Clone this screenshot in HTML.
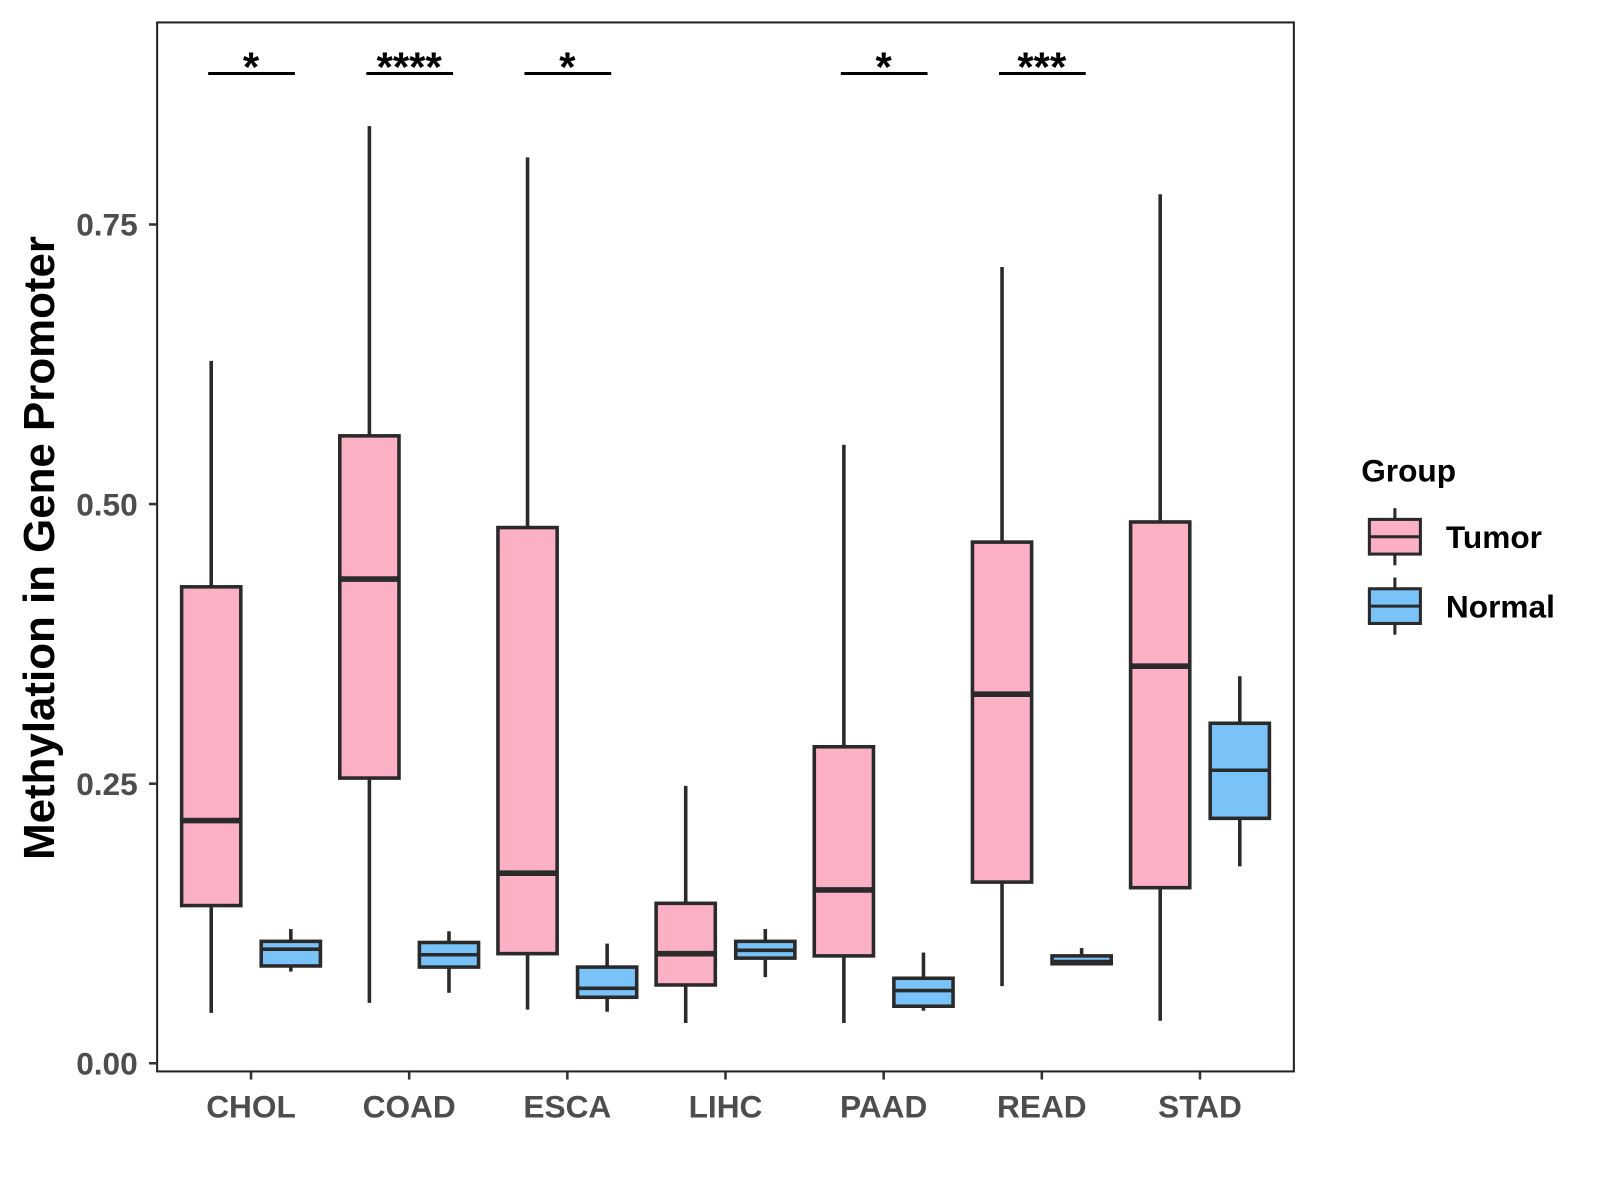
<!DOCTYPE html>
<html><head><meta charset="utf-8"><style>
html,body{margin:0;padding:0;background:#fff;}
svg{display:block;font-family:"Liberation Sans",Arial,sans-serif;}
</style></head><body>
<svg id="chart" width="1600" height="1200" viewBox="0 0 1600 1200">
<rect x="0" y="0" width="1600" height="1200" fill="#fff"/>
<g id="plot" transform="scale(1.0204)"></g>
</svg>
<script>
const categories = ["CHOL","COAD","ESCA","LIHC","PAAD","READ","STAD"];
// [low, q1, median, q3, high]
const tumorStats = [
 [0.045,0.141,0.217,0.426,0.628],
 [0.054,0.255,0.433,0.561,0.838],
 [0.048,0.098,0.170,0.479,0.810],
 [0.036,0.070,0.098,0.143,0.248],
 [0.036,0.096,0.155,0.283,0.553],
 [0.069,0.162,0.330,0.466,0.712],
 [0.038,0.157,0.355,0.484,0.777]
];
const normalStats = [
 [0.082,0.087,0.102,0.109,0.120],
 [0.063,0.086,0.097,0.108,0.118],
 [0.046,0.059,0.067,0.086,0.107],
 [0.077,0.094,0.101,0.109,0.120],
 [0.047,0.051,0.065,0.076,0.099],
 [0.088,0.089,0.091,0.096,0.103],
 [0.176,0.219,0.262,0.304,0.346]
];
const yTicks = [0, 0.25, 0.5, 0.75];
const yTickLabels = ["0.00","0.25","0.50","0.75"];
const sigLabels = ["*","****","*","","*","***",""];

const NS="http://www.w3.org/2000/svg";
const g=document.getElementById('plot');
const yScale=v=>1042-v*1096;
const xScale=i=>246+i*155;
function mk(tag,attrs,parent){const e=document.createElementNS(NS,tag);for(const k in attrs)e.setAttribute(k,attrs[k]);(parent||g).appendChild(e);return e;}

const panel=mk('rect',{x:154,y:22,width:1114,height:1028,fill:'none',stroke:'#222','stroke-width':2});



yTicks.forEach((v,i)=>{
 const y=yScale(v);
 const t=mk('line',{x1:146,x2:154,y1:y,y2:y,stroke:'#333','stroke-width':2.5});
 
 
 const l=mk('text',{x:135,y:y+11,'text-anchor':'end','font-size':31,'font-weight':'bold',fill:'#4d4d4d'});
 l.textContent=yTickLabels[i];
 
 
});

function drawBox(i,s,dx,fill,name,medW){
 const cx=xScale(i)+dx, hw=29;
 const grp=mk('g',{});
 
 
 mk('line',{x1:cx,x2:cx,y1:yScale(s[0]),y2:yScale(s[4]),stroke:'#2a2a2a','stroke-width':3.5},grp);
 mk('rect',{x:cx-hw,y:yScale(s[3]),width:hw*2,height:yScale(s[1])-yScale(s[3]),fill:fill,stroke:'#2a2a2a','stroke-width':3.5},grp);
 mk('line',{x1:cx-hw,x2:cx+hw,y1:yScale(s[2]),y2:yScale(s[2]),stroke:'#2a2a2a','stroke-width':medW},grp);
}
categories.forEach((c,i)=>{
 drawBox(i,tumorStats[i],-39,'#FCB0C3','box-tumor-'+c.toLowerCase(),5.5);
 drawBox(i,normalStats[i],39,'#7AC3F8','box-normal-'+c.toLowerCase(),3.5);
 const x=xScale(i);
 const t=mk('line',{x1:x,x2:x,y1:1050,y2:1058,stroke:'#333','stroke-width':2.5});
 
 
 const l=mk('text',{x:x,y:1095,'text-anchor':'middle','font-size':31,'font-weight':'bold',fill:'#4d4d4d'});
 l.textContent=c;
 
 
 if(sigLabels[i]){
  const b=mk('line',{x1:x-42,x2:x+43,y1:72,y2:72,stroke:'#000','stroke-width':3});
  
  
  const s=mk('text',{x:x,y:80,'text-anchor':'middle','font-size':41,'font-weight':'bold',fill:'#000'});
  s.textContent=sigLabels[i];
  
  
 }
});

const yt=mk('text',{x:0,y:0,transform:'translate(53,537) rotate(-90)','text-anchor':'middle','font-size':43,'font-weight':'bold',fill:'#000'});
yt.textContent='Methylation in Gene Promoter';



const lt=mk('text',{x:1334,y:472,'font-size':31,'font-weight':'bold',fill:'#000'});
lt.textContent='Group';


[['Tumor','#FCB0C3',526],['Normal','#7AC3F8',594]].forEach(([n,f,cy])=>{
 const e=mk('g',{});
 
 
 mk('line',{x1:1367,x2:1367,y1:cy-28,y2:cy+28,stroke:'#2a2a2a','stroke-width':3},e);
 mk('rect',{x:1342,y:cy-17,width:50,height:34,fill:f,stroke:'#2a2a2a','stroke-width':3},e);
 mk('line',{x1:1342,x2:1392,y1:cy,y2:cy,stroke:'#2a2a2a','stroke-width':3},e);
 const t=mk('text',{x:1417,y:cy+11,'font-size':31,'font-weight':'bold',fill:'#000'},e);
 t.textContent=n;
});
</script>
</body></html>
